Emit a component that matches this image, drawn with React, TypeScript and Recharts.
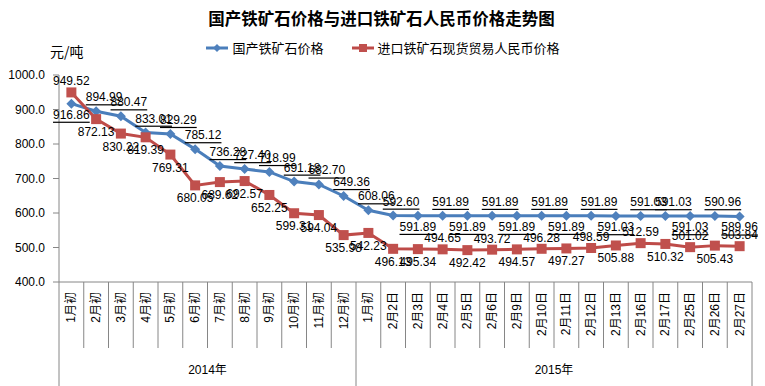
import { FC } from "react"
import { LabelList, Legend, Line, LineChart, XAxis, YAxis } from "recharts"

const CATEGORIES: string[] = [
	'1月初', '2月初', '3月初', '4月初', '5月初', '6月初', '7月初', '8月初', '9月初', '10月初', '11月初', '12月初',
	'1月初', '2月2日', '2月3日', '2月4日', '2月5日', '2月6日', '2月9日', '2月10日', '2月11日', '2月12日',
	'2月13日', '2月16日', '2月17日', '2月25日', '2月26日', '2月27日',
]
const YEAR_GROUPS: string[] = ['2014年', '2015年']
const GROUP_SIZES: number[] = [12, 16]

const DOMESTIC: number[] = [
	916.86, 894.99, 880.47, 833.01, 829.29, 785.12, 736.28, 727.40, 718.99, 691.18, 682.70, 649.36,
	608.06, 592.60, 591.89, 591.89, 591.89, 591.89, 591.89, 591.89, 591.89, 591.89,
	591.03, 591.03, 591.03, 591.03, 590.96, 589.96,
]
const IMPORTED: number[] = [
	949.52, 872.13, 830.22, 819.39, 769.31, 680.05, 689.62, 692.57, 652.25, 599.31, 594.04, 535.98,
	542.23, 496.13, 495.34, 494.65, 492.42, 493.72, 494.57, 496.28, 497.27, 498.59,
	505.88, 512.59, 510.32, 501.02, 505.43, 503.84,
]
const Y_TICKS: number[] = [400, 500, 600, 700, 800, 900, 1000]

// label sides, a = above, b = below
const DOMESTIC_SIDE = 'baaaaaaaaaaaaabababababaabab'
const IMPORTED_SIDE = 'abbbbbbbbbbbbbbababababababa'

const W = 765
const H = 386
const Y_AXIS_W = 59
const RIGHT = 13
const X_AXIS_H = 104
const AXIS_Y = H - X_AXIS_H
const BAND = (W - Y_AXIS_W - RIGHT) / CATEGORIES.length
const AXIS_COLOR = '#868686'
const BLUE = '#4A7EBB'
const RED = '#BE4B48'
const NUM_FONT = '"Liberation Sans", Arial, sans-serif'
const CJK_FONT = '"Liberation Sans", "Noto Sans CJK SC", sans-serif'

const data = CATEGORIES.map((cat, i) => ({
	cat,
	domestic: DOMESTIC[i],
	imported: IMPORTED[i],
}))

const groupStarts: number[] = GROUP_SIZES.map((_, g) => GROUP_SIZES.slice(0, g).reduce((a, b) => a + b, 0))

const CategoryTick: FC<any> = ({ x, index, payload }) => {
	const left = x - BAND / 2
	const g = groupStarts.indexOf(index)
	return (
		<g>
			<line x1={left} x2={left} y1={AXIS_Y} y2={g >= 0 ? H : AXIS_Y + 66} stroke={AXIS_COLOR} />
			{index === CATEGORIES.length - 1 && (
				<line x1={x + BAND / 2} x2={x + BAND / 2} y1={AXIS_Y} y2={H} stroke={AXIS_COLOR} />
			)}
			<text
				transform={`translate(${x},${AXIS_Y + 10}) rotate(-90)`}
				textAnchor="end"
				dominantBaseline="central"
				fontSize={12}
				fontFamily={CJK_FONT}
				fill="#000"
			>
				{payload.value}
			</text>
			{g >= 0 && (
				<text
					x={left + (GROUP_SIZES[g] * BAND) / 2}
					y={AXIS_Y + 88}
					textAnchor="middle"
					dominantBaseline="central"
					fontSize={12}
					fontFamily={CJK_FONT}
					fill="#000"
				>
					{YEAR_GROUPS[g]}
				</text>
			)}
		</g>
	)
}

const makeLabel = (sides: string, underline: boolean) => (props: any) => {
	const { x, y, value, index } = props
	const above = sides[index] === 'a'
	return (
		<text
			key={`lbl-${index}`}
			x={x + (above && underline ? 8 : 0)}
			y={y + (above ? (underline ? -14 : -11) : (underline ? 11 : 13))}
			textAnchor="middle"
			dominantBaseline="central"
			fontSize={12}
			fontFamily={NUM_FONT}
			fill="#000"
			style={underline ? { textDecoration: 'underline' } : undefined}
		>
			{Number(value).toFixed(2)}
		</text>
	)
}

const Diamond = (props: any) => {
	const { cx, cy, index } = props
	const r = 5
	return (
		<path
			key={`d-${index}`}
			d={`M${cx},${cy - r}L${cx + r},${cy}L${cx},${cy + r}L${cx - r},${cy}Z`}
			fill="#4F81BD"
		/>
	)
}

const Square = (props: any) => {
	const { cx, cy, index } = props
	return <rect key={`s-${index}`} x={cx - 5} y={cy - 5} width={10} height={10} fill="#C0504D" />
}

const LegendContent = ({ payload }: any) => (
	<div style={{ display: 'flex', justifyContent: 'center', gap: 27, fontFamily: CJK_FONT, fontSize: 13 }}>
		{(payload || []).map((p: any, i: number) => (
			<div key={i} style={{ display: 'flex', alignItems: 'center' }}>
				<svg width={24} height={12} style={{ marginRight: 3 }}>
					<line x1={1} x2={23} y1={6} y2={6} stroke={p.color} strokeWidth={3} />
					{i === 0 ? (
						<path d="M12,2L16,6L12,10L8,6Z" fill="#4F81BD" />
					) : (
						<rect x={8} y={2} width={8} height={8} fill="#C0504D" />
					)}
				</svg>
				<span>{p.value}</span>
			</div>
		))}
	</div>
)

const App: FC = () => {
	return (
		<div style={{ position: 'absolute', left: 0, top: 0, width: W, height: H, background: '#fff' }}>
			<div
				style={{
					position: 'absolute', left: 0, top: 7, width: W - 2, textAlign: 'center',
					fontFamily: '"Noto Sans CJK SC", sans-serif', fontWeight: 'bold', fontSize: 16.5, lineHeight: '22px',
				}}
			>
				国产铁矿石价格与进口铁矿石人民币价格走势图
			</div>
			<div
				style={{
					position: 'absolute', left: 50, top: 42, fontFamily: '"Noto Sans CJK SC", sans-serif',
					fontSize: 14, lineHeight: '18px',
				}}
			>
				元/吨
			</div>
			<LineChart width={W} height={H} data={data} margin={{ top: 75, right: RIGHT, bottom: 0, left: 0 }}>
				<XAxis
					dataKey="cat"
					interval={0}
					height={X_AXIS_H}
					padding={{ left: BAND / 2, right: BAND / 2 }}
					tickLine={false}
					axisLine={{ stroke: AXIS_COLOR }}
					tick={<CategoryTick />}
				/>
				<YAxis
					width={Y_AXIS_W}
					domain={[400, 1000]}
					ticks={Y_TICKS}
					tickFormatter={(v: number) => v.toFixed(1)}
					tickSize={6}
					tickMargin={8}
					axisLine={{ stroke: AXIS_COLOR }}
					tickLine={{ stroke: AXIS_COLOR }}
					tick={{ fontSize: 12, fill: '#000', fontFamily: NUM_FONT }}
				/>
				<Legend
					layout="horizontal"
					verticalAlign="middle"
					align="center"
					wrapperStyle={{ top: 38, left: 0, width: W }}
					content={<LegendContent />}
				/>
				<Line
					name="国产铁矿石价格"
					dataKey="domestic"
					stroke={BLUE}
					strokeWidth={3}
					dot={Diamond}
					activeDot={false}
					isAnimationActive={false}
				>
					<LabelList dataKey="domestic" content={makeLabel(DOMESTIC_SIDE, true)} />
				</Line>
				<Line
					name="进口铁矿石现货贸易人民币价格"
					dataKey="imported"
					stroke={RED}
					strokeWidth={3}
					dot={Square}
					activeDot={false}
					isAnimationActive={false}
				>
					<LabelList dataKey="imported" content={makeLabel(IMPORTED_SIDE, false)} />
				</Line>
			</LineChart>
		</div>
	)
}

export default App
